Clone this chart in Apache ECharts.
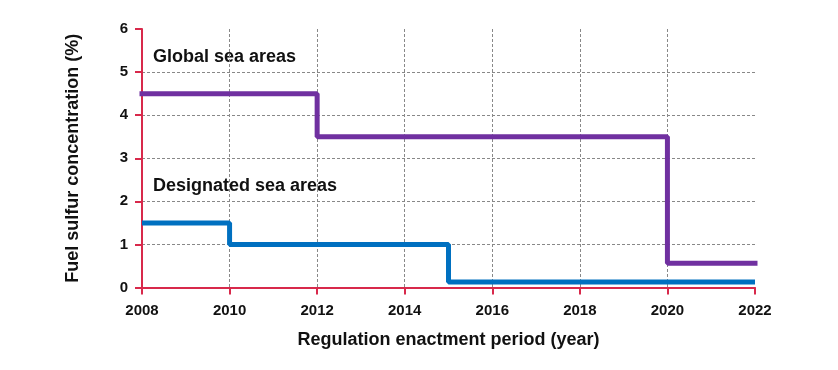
<!DOCTYPE html>
<html><head><meta charset="utf-8">
<script src="https://cdn.jsdelivr.net/npm/echarts@6/dist/echarts.min.js"></script>
<style>html,body{margin:0;padding:0;background:#fff}#c{width:838px;height:370px}</style>
</head><body><div id="c"></div>
<script>
const globalYears = [2008, 2012, 2020, 2022];
const globalValues = [4.5, 3.5, 0.56, 0.56];
const designatedYears = [2008, 2010, 2015, 2022];
const designatedValues = [1.5, 1.0, 0.13, 0.13];
const xTicks = [2008, 2010, 2012, 2014, 2016, 2018, 2020, 2022];
const yTicks = [0, 1, 2, 3, 4, 5, 6];
const labelGlobal = 'Global sea areas';
const labelDesignated = 'Designated sea areas';

const chart = echarts.init(document.getElementById('c'));
const font = 'Liberation Sans, Arial, sans-serif';
const red = '#d8294b';
function axisBase() {
  return {
    axisLine: {show: true, onZero: false, lineStyle: {color: red, width: 2}},
    axisTick: {show: true, inside: false, length: 7, lineStyle: {color: red, width: 2}},
    splitLine: {show: true, showMinLine: false, showMaxLine: false, lineStyle: {color: '#888', type: [3, 2], width: 1}},
    axisLabel: {color: '#111', fontWeight: 'bold', fontSize: 15, fontFamily: font, margin: 14},
    nameTextStyle: {color: '#111', fontWeight: 'bold', fontSize: 18, fontFamily: font}
  };
}
const xa = axisBase();
xa.axisLabel.formatter = v => String(v);
xa.axisLabel.margin = 16;
const ya = axisBase();
chart.setOption({
  animation: false,
  grid: {left: 142, right: 83, top: 29, bottom: 82.5},
  xAxis: Object.assign(xa, {
    type: 'value', min: xTicks[0], max: xTicks[xTicks.length - 1], interval: 2,
    name: 'Regulation enactment period (year)', nameLocation: 'middle', nameGap: 44
  }),
  yAxis: Object.assign(ya, {
    type: 'value', min: yTicks[0], max: yTicks[yTicks.length - 1], interval: 1,
    name: 'Fuel sulfur concentration (%)', nameLocation: 'middle', nameGap: 60
  }),
  series: [
    {type: 'line', step: 'end', symbol: 'none', data: globalYears.map((x, i) => [x, globalValues[i]]),
     lineStyle: {color: '#7030a0', width: 5, cap: 'square'}, z: 3},
    {type: 'line', step: 'end', symbol: 'none', data: designatedYears.map((x, i) => [x, designatedValues[i]]),
     lineStyle: {color: '#0070c0', width: 5}, z: 3}
  ],
  graphic: [
    {type: 'text', left: 153, top: 48, style: {text: labelGlobal, fill: '#111', font: 'bold 18px ' + font}},
    {type: 'text', left: 153, top: 177, style: {text: labelDesignated, fill: '#111', font: 'bold 18px ' + font}}
  ]
});
</script></body></html>
